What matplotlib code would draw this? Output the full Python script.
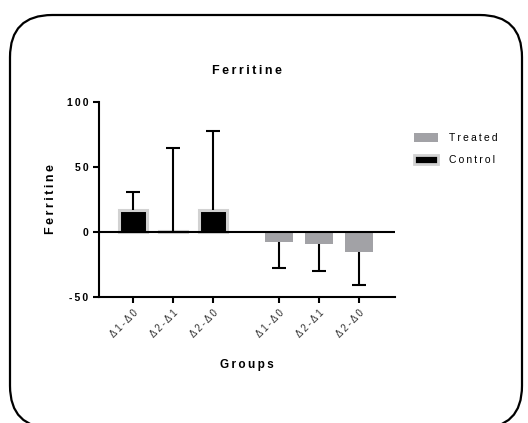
import numpy as np
import matplotlib
matplotlib.use('Agg')
import matplotlib.pyplot as plt
from matplotlib.patches import FancyBboxPatch, Patch

plt.rcParams['font.family'] = ['Liberation Sans', 'DejaVu Sans']

# data
labels = ['Δ1-Δ0', 'Δ2-Δ1', 'Δ2-Δ0', 'Δ1-Δ0', 'Δ2-Δ1', 'Δ2-Δ0']
control = [17, 0.6, 17]
control_err = [14, 64, 61]
treated = [-7.7, -9.5, -15.6]
treated_err = [20, 20.7, 25.5]

def spaced(s):
    return '\u2009'.join(s)

pos_c = np.array([0, 1, 2])
pos_t = np.array([3.65, 4.65, 5.65])

fig = plt.figure(figsize=(5.28, 4.23), dpi=100)

# rounded frame around the whole figure (bottom runs off the image)
frame = FancyBboxPatch((10 / 528, 1 - 428 / 423), 512 / 528, 413 / 423,
                       boxstyle='round,pad=0,rounding_size=0.08',
                       transform=fig.transFigure, fill=False,
                       edgecolor='black', linewidth=1.6, mutation_aspect=528 / 423)
fig.patches.append(frame)

ax = fig.add_axes([99 / 528, 1 - 297 / 423, 296 / 528, 195 / 423])

ax.bar(pos_c, control, width=0.68, color='black', edgecolor='#d2d2d2',
       linewidth=2.2, zorder=2)
ax.bar(pos_t, treated, width=0.72, color='#a2a2a6', zorder=2)

# one-sided error bars, cap only at the outer end
c_top = np.array(control) + np.array(control_err)
t_bot = np.array(treated) - np.array(treated_err)
ax.vlines(pos_c, control, c_top, color='black', linewidth=1.5, zorder=3)
ax.vlines(pos_t, treated, t_bot, color='black', linewidth=1.5, zorder=3)
ax.plot(pos_c, c_top, ls='none', marker='_', ms=10, mew=1.5, color='black', zorder=3)
ax.plot(pos_t, t_bot, ls='none', marker='_', ms=10, mew=1.5, color='black', zorder=3)

ax.axhline(0, color='black', linewidth=1.5, zorder=4)

ax.set_xlim(-0.85, 6.55)
ax.set_ylim(-50, 100)
ax.set_yticks([-50, 0, 50, 100])
ax.set_yticklabels([spaced(t) for t in ['-50', '0', '50', '100']],
                   fontsize=7.5, fontweight='bold')
ax.set_xticks(np.concatenate([pos_c, pos_t]))
ax.set_xticklabels([spaced(l) for l in labels], rotation=45, ha='right',
                   rotation_mode='anchor', fontsize=7, color='#333333')

for s in ['top', 'right']:
    ax.spines[s].set_visible(False)
for s in ['left', 'bottom']:
    ax.spines[s].set_linewidth(1.5)
ax.tick_params(axis='both', width=1.5, length=4)
ax.tick_params(axis='x', pad=4)

ax.set_title(spaced('Ferritine'), fontsize=9, fontweight='bold', pad=20)
ax.set_ylabel(spaced('Ferritine'), fontsize=9, fontweight='bold', labelpad=7)
ax.set_xlabel(spaced('Groups'), fontsize=8.5, fontweight='bold', labelpad=14)

handles = [Patch(facecolor='#a2a2a6', edgecolor='none'),
           Patch(facecolor='black', edgecolor='#d2d2d2', linewidth=2)]
leg = fig.legend(handles, [spaced('Treated'), spaced('Control')],
                 loc='upper left', bbox_to_anchor=(405 / 528, 1 - 124 / 423),
                 frameon=False, fontsize=7.5, handlelength=2.3, handleheight=0.9,
                 labelspacing=1.1, handletextpad=1.0)

fig.savefig('out.png', dpi=100)
